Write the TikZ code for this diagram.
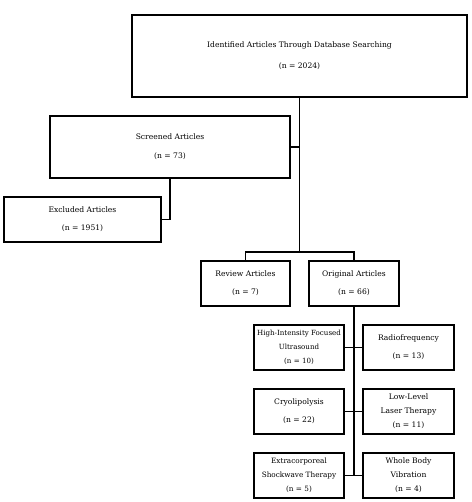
\documentclass[tikz,border=0pt]{standalone}
\usepackage{fontspec}
\setmainfont{DejaVu Serif}
\begin{document}
\begin{tikzpicture}[x=1pt,y=-1pt,
  box/.style={draw, line width=1.7pt, inner sep=0pt, align=center, font=\fontsize{7.6}{14}\selectfont},
  link/.style={line width=1.7pt}]
\useasboundingbox (0,0) rectangle (471,502);
\node[box, minimum width=335pt, minimum height=82pt] (top) at (299.5,56) {Identified Articles Through Database Searching\\[7pt](n = 2024)};
\node[box, minimum width=240pt, minimum height=62pt] (screened) at (170,147) {Screened Articles\\[5pt](n = 73)};
\node[box, minimum width=157pt, minimum height=45pt] (excluded) at (82.5,219.5) {Excluded Articles\\[4pt](n = 1951)};
\node[box, minimum width=89pt, minimum height=45pt] (review) at (245.5,283.5) {Review Articles\\[4pt](n = 7)};
\node[box, minimum width=90pt, minimum height=45pt] (original) at (354,283.5) {Original Articles\\[4pt](n = 66)};
\node[box, minimum width=90pt, minimum height=45pt, font=\fontsize{7.1}{14}\selectfont] (hifu) at (299,347.5) {High-Intensity Focused\\Ultrasound\\(n = 10)};
\node[box, minimum width=91pt, minimum height=45pt] (rf) at (408.5,347.5) {Radiofrequency\\[4pt](n = 13)};
\node[box, minimum width=90pt, minimum height=45pt] (cryo) at (299,411.5) {Cryolipolysis\\[4pt](n = 22)};
\node[box, minimum width=91pt, minimum height=45pt] (lllt) at (408.5,411.5) {Low-Level\\Laser Therapy\\(n = 11)};
\node[box, minimum width=90pt, minimum height=45pt, font=\fontsize{7.3}{14}\selectfont] (eswt) at (299,475.5) {Extracorporeal\\Shockwave Therapy\\(n = 5)};
\node[box, minimum width=91pt, minimum height=45pt] (wbv) at (408.5,475.5) {Whole Body\\Vibration\\(n = 4)};
\coordinate (split) at (299.5,252);
\draw[link] (top.south) -- (split);
\draw[link] (review.north) -- (review.north |- split) -- (original.north |- split) -- (original.north);
\draw[link] (screened.east) -- (screened.east -| top.south);
\draw[link] (screened.south) -- (screened.south |- excluded.east) -- (excluded.east);
\draw[link] (original.south) -- (original.south |- eswt.east);
\draw[link] (hifu.east) -- (rf.west);
\draw[link] (cryo.east) -- (lllt.west);
\draw[link] (eswt.east) -- (wbv.west);
\end{tikzpicture}
\end{document}
